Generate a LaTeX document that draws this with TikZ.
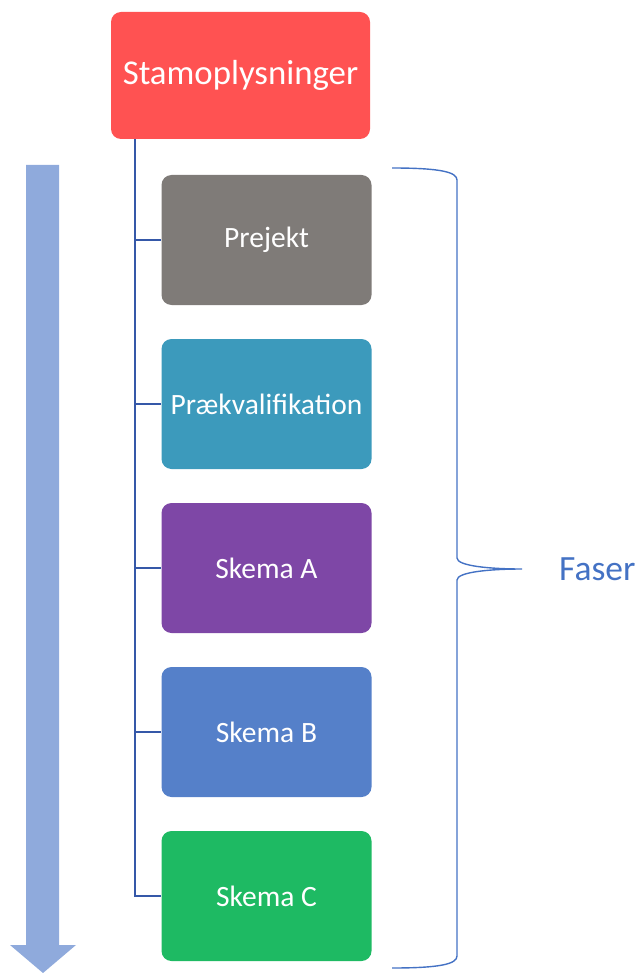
\documentclass[tikz,border=0pt]{standalone}
\usepackage{fontspec}
\setmainfont{Carlito}
\definecolor{cRed}{HTML}{FF5252}
\definecolor{cGray}{HTML}{7F7B78}
\definecolor{cTeal}{HTML}{3C9ABC}
\definecolor{cPurple}{HTML}{7E47A6}
\definecolor{cBlue}{HTML}{5580C9}
\definecolor{cGreen}{HTML}{1EBA63}
\definecolor{cLine}{HTML}{3558A8}
\definecolor{cBrace}{HTML}{4472C4}
\definecolor{cArrow}{HTML}{8FAADC}
\begin{document}
\begin{tikzpicture}[x=1pt,y=-1pt,
  box/.style={rectangle,rounded corners=10pt,draw=none,text=white,inner sep=0pt,
    minimum width=210pt,minimum height=130pt,font=\fontsize{29.5}{29.5}\selectfont},
  topbox/.style={box,minimum width=259pt,minimum height=127pt,font=\fontsize{34.8}{34.8}\selectfont},
  conn/.style={draw=cLine,line width=2.2pt},
  bracestyle/.style={draw=cBrace,line width=1.4pt}]
\useasboundingbox (0,0) rectangle (639,973);
% arrow
\fill[cArrow] (26,165) -- (59,165) -- (59,945) -- (76,945) -- (43,973) -- (10,945) -- (26,945) -- cycle;
% nodes
\node[topbox,fill=cRed] (top) at (240.5,75.5) {Stamoplysninger};
\node[box,fill=cGray] (c1) at (266.5,240) {Prejekt};
\node[box,fill=cTeal] (c2) at (266.5,404) {Prækvalifikation};
\node[box,fill=cPurple] (c3) at (266.5,568) {Skema A};
\node[box,fill=cBlue] (c4) at (266.5,732) {Skema B};
\node[box,fill=cGreen] (c5) at (266.5,896) {Skema C};
% connectors
\coordinate (trunk) at ([xshift=24pt]top.south west);
\draw[conn] (trunk) |- (c5.west);
\foreach \n in {c1,c2,c3,c4}{\draw[conn] (trunk |- \n.west) -- (\n.west);}
% brace
\coordinate (tip) at (522,569);
\draw[bracestyle] (392,168) .. controls (440,168) and (457,172) .. (457,180)
  -- (457,558) .. controls (457,566) and (490,569) .. (tip)
  .. controls (490,569) and (457,572) .. (457,580)
  -- (457,956) .. controls (457,964) and (440,968) .. (392,968);
\node[text=cBrace,font=\fontsize{35.5}{35.5}\selectfont,anchor=west,inner sep=0pt] (faser) at (559,569) {Faser};
\end{tikzpicture}
\end{document}
